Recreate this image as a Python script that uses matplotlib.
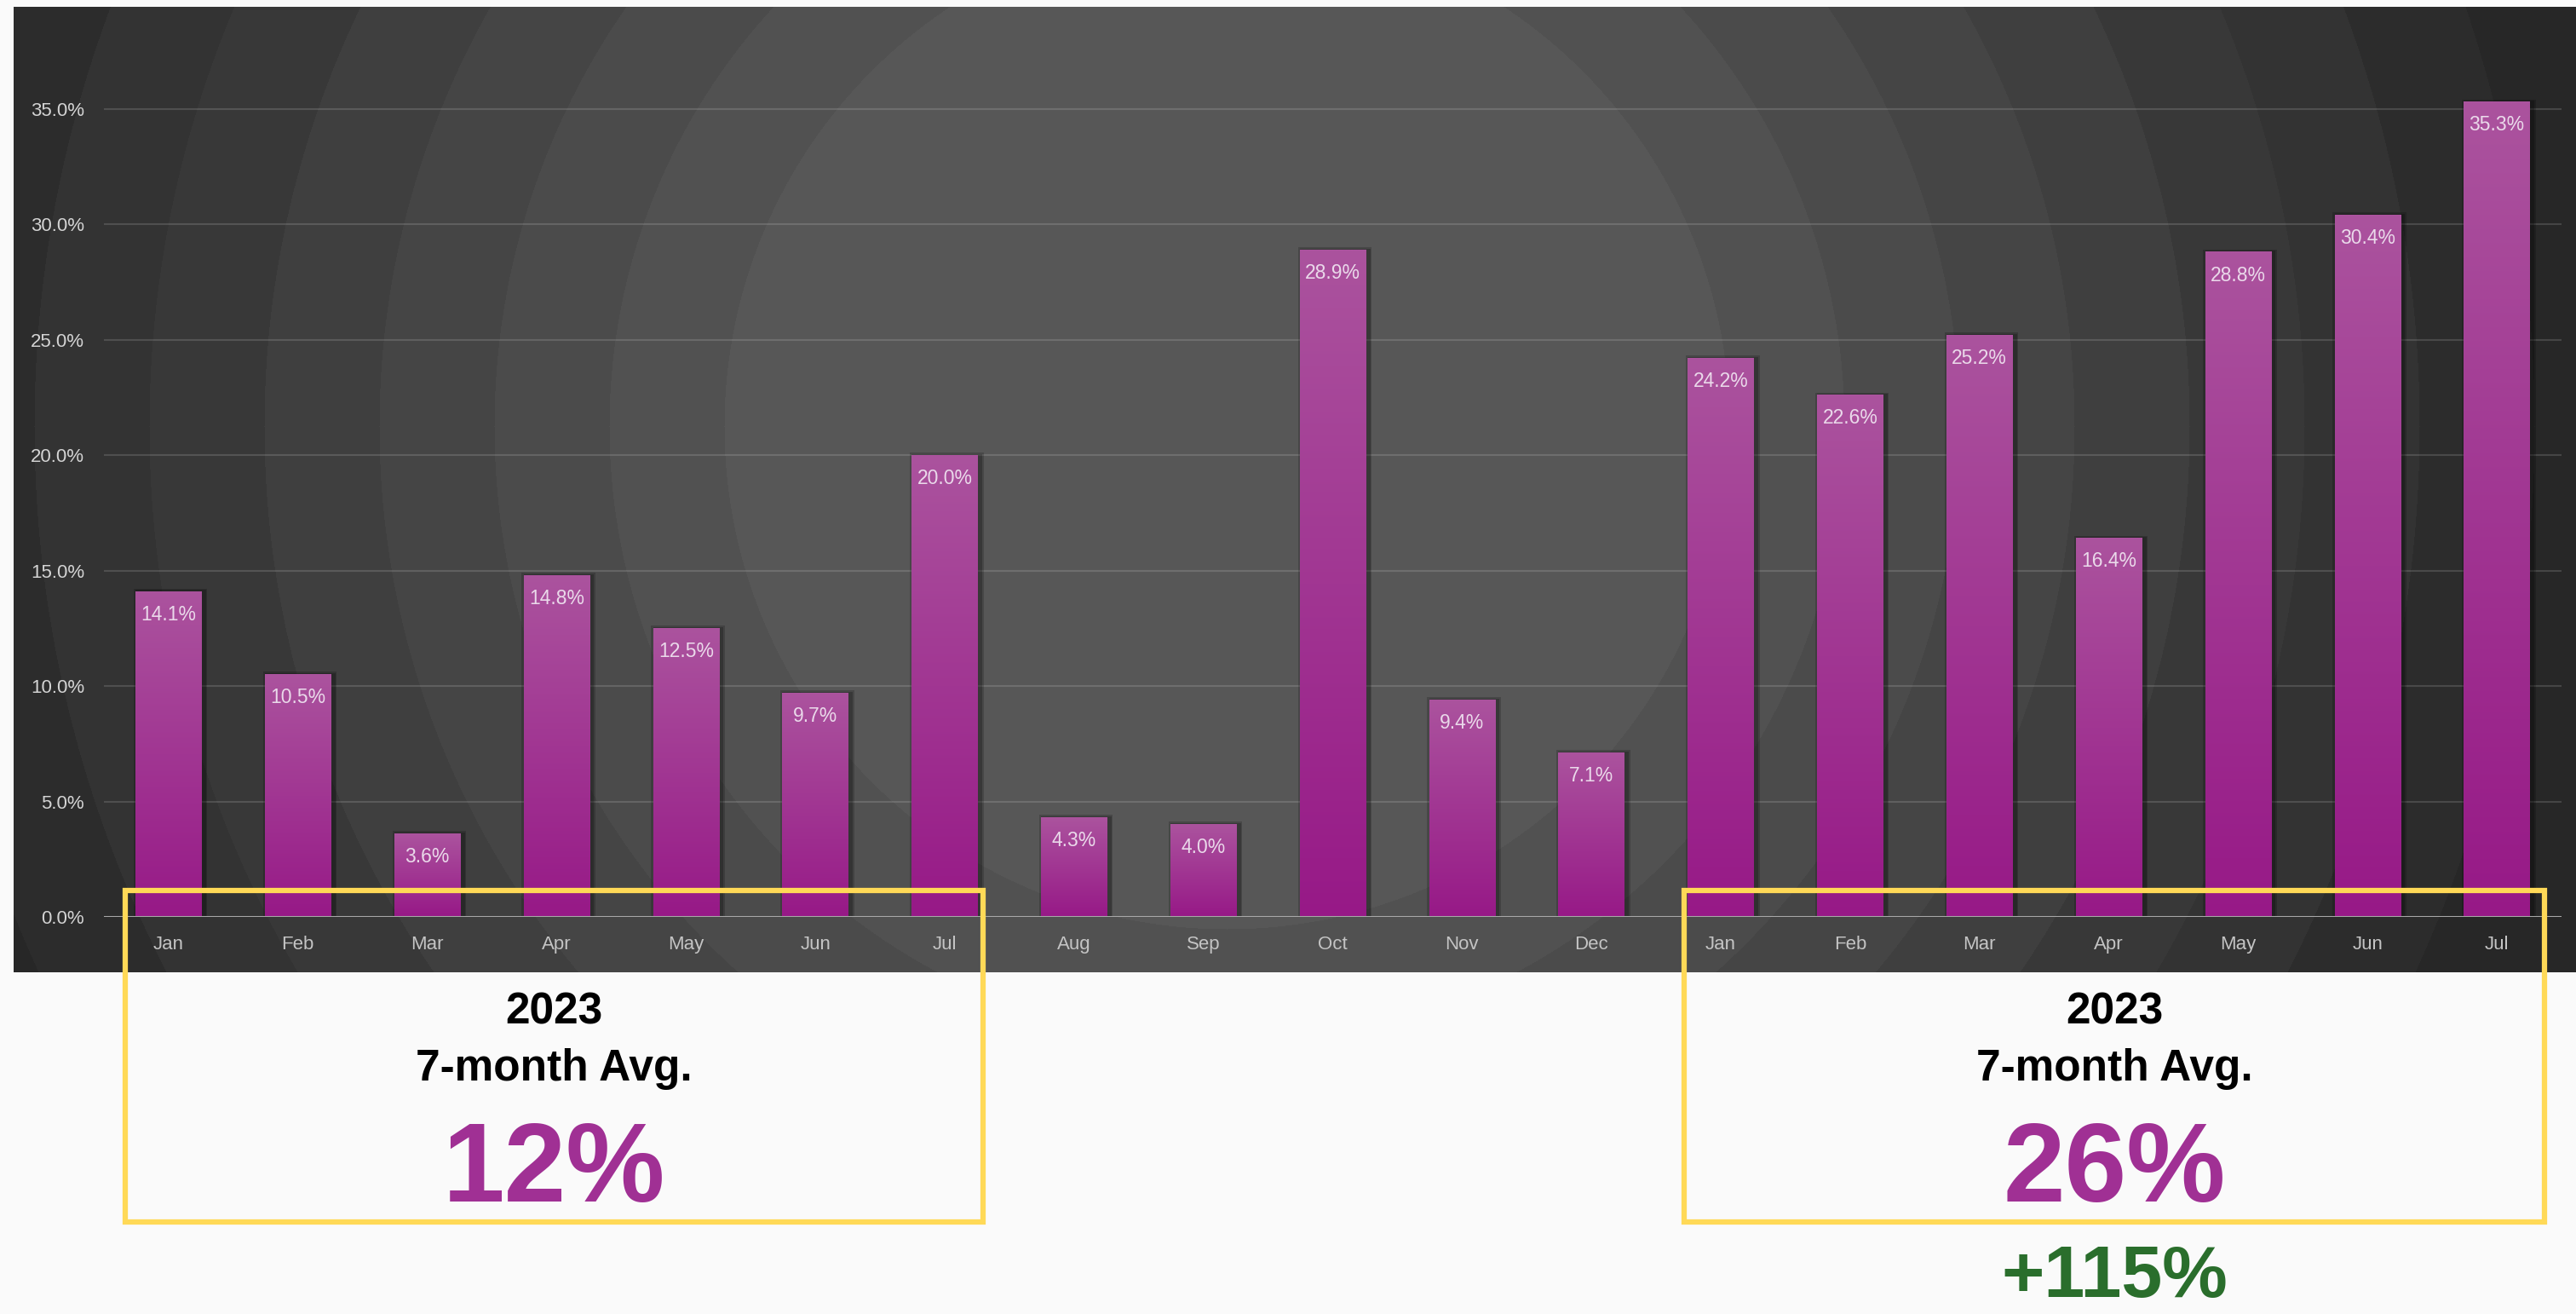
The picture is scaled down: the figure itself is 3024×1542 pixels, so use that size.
import numpy as np
import matplotlib
matplotlib.use("Agg")
import matplotlib.pyplot as plt
from matplotlib.patches import Rectangle

# data
months = ['Jan', 'Feb', 'Mar', 'Apr', 'May', 'Jun', 'Jul',
          'Aug', 'Sep', 'Oct', 'Nov', 'Dec',
          'Jan', 'Feb', 'Mar', 'Apr', 'May', 'Jun', 'Jul']
rate_2023 = [14.1, 10.5, 3.6, 14.8, 12.5, 9.7, 20.0,
             4.3, 4.0, 28.9, 9.4, 7.1]
rate_2024 = [24.2, 22.6, 25.2, 16.4, 28.8, 30.4, 35.3]
box_title = ["2023", "7-month Avg."]
yticks = [0, 5, 10, 15, 20, 25, 30, 35]

values = rate_2023 + rate_2024
avg_first = np.mean(rate_2023[:7])
avg_last = np.mean(rate_2024)
growth = (avg_last / avg_first - 1) * 100

W, H = 3024, 1542
plt.rcParams['font.family'] = ['Liberation Sans', 'DejaVu Sans']

fig = plt.figure(figsize=(W / 100, H / 100), dpi=100, facecolor='#fafafa')

def fig_rect(x0, y0, x1, y1):
    # pixel box (top-left origin) -> figure fraction
    return [x0 / W, 1 - y1 / H, (x1 - x0) / W, (y1 - y0) / H]

# dark panel with banded radial glow
px0, py0, px1, py1 = 16, 8, W, 1141
bg = fig.add_axes(fig_rect(px0, py0, px1, py1))
xx, yy = np.meshgrid(np.arange(px0, px1), np.arange(py0, py1))
r = np.hypot(xx - 1440, yy - 500)
band = np.clip(np.ceil((r - 590) / 135), 0, 8)
level = 0x57 - 6 * band
bg.imshow(level, cmap='gray', vmin=0, vmax=255, interpolation='nearest', aspect='auto')
bg.axis('off')

# bar chart
ax = fig.add_axes(fig_rect(122, 8, 3007, 1076))
ax.set_facecolor('none')
top_pct = (1076 - 8) / ((1076 - 128) / 35)
x = np.arange(len(values))
bw = 0.51

grad = np.linspace(0, 1, 256).reshape(-1, 1)
top_c = np.array([0xab, 0x53, 0x9e]) / 255
bot_c = np.array([0x97, 0x19, 0x87]) / 255
grad_img = (bot_c + (top_c - bot_c) * grad)[:, None, :]

for xi, v in zip(x, values):
    ax.add_patch(Rectangle((xi - bw / 2 - 0.015, 0), bw + 0.06, v + 0.12,
                           color='black', alpha=0.18, lw=0, zorder=2))
    ax.add_patch(Rectangle((xi - bw / 2, 0), bw + 0.035, v + 0.06,
                           color='black', alpha=0.2, lw=0, zorder=2))
    ax.imshow(grad_img, extent=[xi - bw / 2, xi + bw / 2, 0, v], origin='lower',
              aspect='auto', interpolation='bilinear', zorder=3)
    ax.annotate(f"{v:.1f}%", (xi, v), xytext=(0, -19.5), textcoords='offset points',
                ha='center', va='center', color='#ead9ea', fontsize=16.5, zorder=4)

ax.set_xlim(-0.5, len(values) - 0.5)
ax.set_ylim(0, top_pct)
for t in yticks[1:]:
    ax.axhline(t, color='white', alpha=0.14, lw=1.5, zorder=1)
ax.axhline(0, color='#a8a8a8', lw=2.2, zorder=5)

ax.set_xticks(x)
ax.set_xticklabels(months, color='#c4c4c4', fontsize=16)
ax.set_yticks(yticks)
ax.set_yticklabels([f"{t:.1f}%" for t in yticks], color='#d4d4d4', fontsize=16)
ax.tick_params(length=0, axis='x', pad=16)
ax.tick_params(length=0, axis='y', pad=16.5)
for s in ax.spines.values():
    s.set_visible(False)

# overlay: highlight boxes and summary text
ov = fig.add_axes([0, 0, 1, 1])
ov.set_xlim(0, W)
ov.set_ylim(H, 0)
ov.axis('off')
ov.patch.set_alpha(0)

yellow = '#ffd957'
purple = '#a03094'
for (bx0, bx1), avg in [((147, 1154), avg_first), ((1977, 2987), avg_last)]:
    ov.add_patch(Rectangle((bx0, 1045), bx1 - bx0, 1434 - 1045, fill=False,
                           edgecolor=yellow, lw=4.5))
    cx = (bx0 + bx1) / 2
    ov.text(cx, 1202, box_title[0], ha='center', va='baseline',
            fontsize=37, fontweight='bold', color='black')
    ov.text(cx, 1268, box_title[1], ha='center', va='baseline',
            fontsize=37, fontweight='bold', color='black')
    ov.text(cx, 1410, f"{avg:.0f}%", ha='center', va='baseline',
            fontsize=94, fontweight='bold', color=purple)

ov.text(2482, 1540, f"+{growth:.0f}%", ha='center', va='bottom',
        fontsize=62, fontweight='bold', color='#2a6e2c',
        family=['Liberation Sans Narrow', 'Liberation Sans'])

fig.savefig('out.png', dpi=100, facecolor=fig.get_facecolor())
